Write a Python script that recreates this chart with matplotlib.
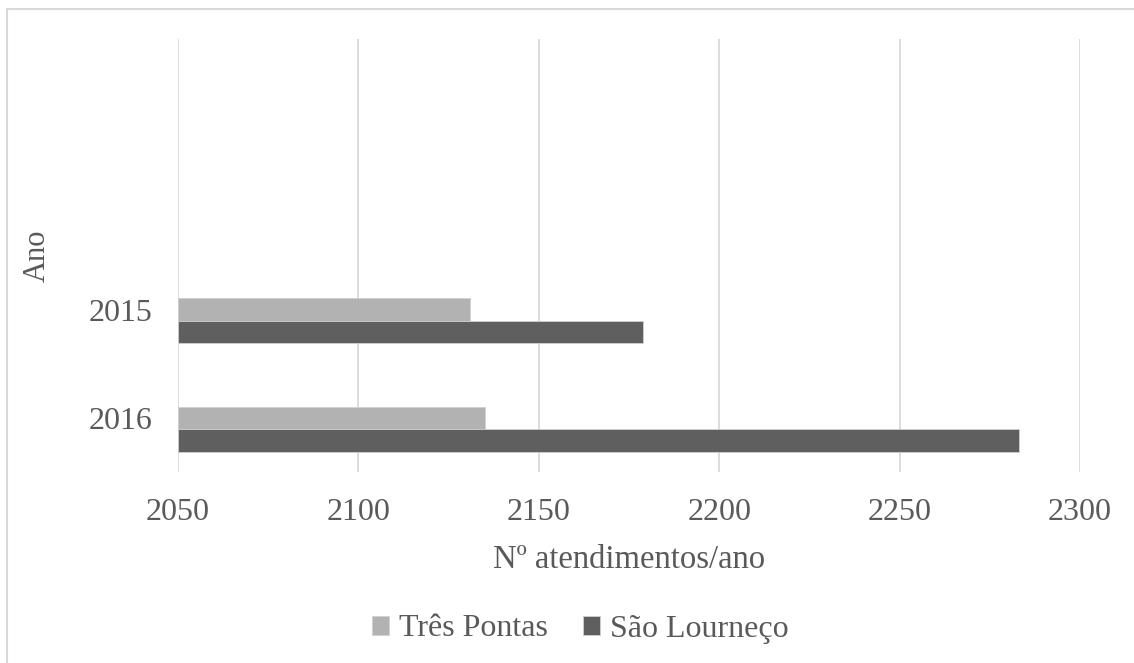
import matplotlib.pyplot as plt
from matplotlib.patches import Rectangle

# Atendimentos por ano em cada município
anos = ["2016", "2015", "", ""]
tres_pontas = [2135, 2131]
sao_lourenco = [2283, 2179]
series_nomes = ["Três Pontas", "São Lourneço"]

cor_tres = "#b2b2b2"
cor_sao = "#5f5f5f"
cor_texto = "#595959"
cor_grade = "#d9d9d9"

plt.rcParams["font.family"] = ["Liberation Serif", "DejaVu Serif"]

fig = plt.figure(figsize=(11.34, 6.63), dpi=100)
fig.patches.append(Rectangle((7 / 1134, -0.1), 1.2, (663 - 9) / 663 + 0.1,
                             transform=fig.transFigure, fill=False,
                             edgecolor=cor_grade, linewidth=1.5, zorder=0))

ax = fig.add_axes([178 / 1134, 191 / 663, 902 / 1134, 433 / 663])

altura = 0.208
pos = list(range(len(tres_pontas)))
ax.barh(pos, [v - 2050 for v in tres_pontas], left=2050, height=altura,
        color=cor_tres, edgecolor="#d0d0d0", linewidth=0.6,
        label=series_nomes[0], zorder=2)
ax.barh([p - altura for p in pos], [v - 2050 for v in sao_lourenco], left=2050,
        height=altura, color=cor_sao, edgecolor="#d0d0d0", linewidth=0.6,
        label=series_nomes[1], zorder=2)

ax.set_xlim(2050, 2300)
ax.set_xticks(range(2050, 2301, 50))
ax.set_ylim(-0.5, len(anos) - 0.5)
ax.set_yticks(range(len(anos)))
ax.set_yticklabels(anos)

ax.grid(axis="x", color=cor_grade, linewidth=1.3, zorder=0)
for lado in ["top", "right", "bottom", "left"]:
    ax.spines[lado].set_visible(False)
ax.tick_params(axis="both", length=0, labelsize=23, colors=cor_texto)
ax.tick_params(axis="x", pad=19)
ax.tick_params(axis="y", pad=18)

ax.set_xlabel("Nº atendimentos/ano", fontsize=23.5, color=cor_texto, labelpad=12)
ax.set_ylabel("Ano", fontsize=22, color=cor_texto, labelpad=27)

ax.legend(loc="center", bbox_to_anchor=(580 / 1134, 34 / 663),
          bbox_transform=fig.transFigure, ncol=2, frameon=False,
          fontsize=23, labelcolor=cor_texto, handlelength=0.55,
          handleheight=0.55, handletextpad=0.3, columnspacing=1.1)

fig.savefig("out.png", dpi=100)
